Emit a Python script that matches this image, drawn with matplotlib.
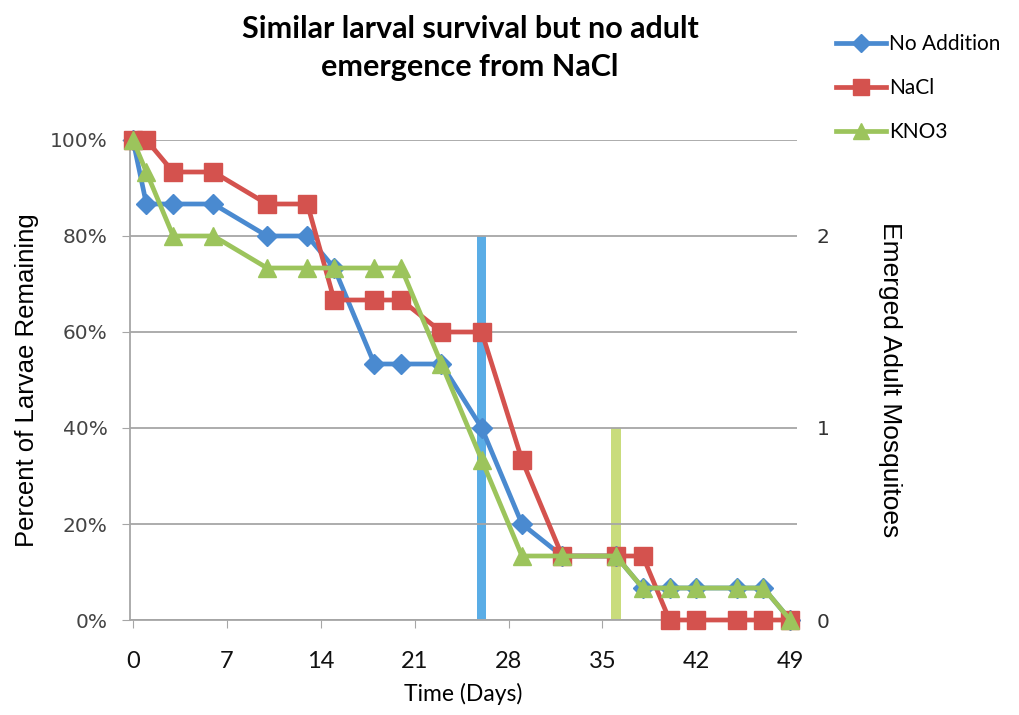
import numpy as np
import matplotlib.pyplot as plt
from matplotlib.lines import Line2D

# Data (15 larvae per treatment)
days = [0, 1, 3, 6, 10, 13, 15, 18, 20, 23, 26, 29, 32, 36, 38, 40, 42, 45, 47, 49]
no_addition = [15, 13, 13, 13, 12, 12, 11, 8, 8, 8, 6, 3, 2, 2, 1, 1, 1, 1, 1, 0]
nacl = [15, 15, 14, 14, 13, 13, 10, 10, 10, 9, 9, 5, 2, 2, 2, 0, 0, 0, 0, 0]
kno3 = [15, 14, 12, 12, 11, 11, 11, 11, 11, 8, 5, 2, 2, 2, 1, 1, 1, 1, 1, 0]
n_larvae = 15

emerge_days = [26, 36]
emerged = [2, 1]
emerge_colors = ['#5AADE6', '#C9DC7C']

x_ticks = [0, 7, 14, 21, 28, 35, 42, 49]

title = 'Similar larval survival but no adult\nemergence from NaCl'

blue = '#4A8AD0'
red = '#D4524E'
green = '#9CC45C'
grid_c = '#A6A6A6'

fig = plt.figure(figsize=(10.2, 7.15), dpi=100)
ax = fig.add_axes([130/1020, 1 - 620/715, (797 - 130)/1020, (620 - 140)/715])
ax2 = ax.twinx()

# emerged adults on the right axis, behind the survival lines
ax2.bar(emerge_days, emerged, width=0.7, color=emerge_colors, zorder=1)
ax2.set_ylim(0, 2.5)
ax2.set_yticks([0, 1, 2])
ax2.tick_params(axis='y', length=0, pad=14, labelsize=14.5, labelcolor='#333333')
ax2.set_ylabel('Emerged Adult Mosquitoes', rotation=-90, fontsize=19,
               family='Liberation Sans', labelpad=52)
for s in ax2.spines.values():
    s.set_visible(False)

ax.set_zorder(ax2.get_zorder() + 1)
ax.patch.set_visible(False)

frac = lambda v: np.array(v) / n_larvae
ax.plot(days, frac(no_addition), color=blue, lw=3.4, marker='D', ms=10.5, clip_on=False, zorder=3)
ax.plot(days, frac(nacl), color=red, lw=3.4, marker='s', ms=13, clip_on=False, zorder=4)
ax.plot(days, frac(kno3), color=green, lw=3.4, marker='^', ms=13, clip_on=False, zorder=5)

ax.set_xlim(-0.22, 49.5)
ax.set_ylim(0, 1.0)
ax.set_yticks(np.arange(0, 1.01, 0.2))
ax.set_yticklabels([f'{int(round(v*100))}%' for v in np.arange(0, 1.01, 0.2)])
ax.set_xticks(x_ticks)
ax.grid(axis='y', color=grid_c, lw=1.3)
ax.set_axisbelow(True)
for s in ['top', 'right']:
    ax.spines[s].set_visible(False)
for s in ['left', 'bottom']:
    ax.spines[s].set_color(grid_c)
    ax.spines[s].set_linewidth(1.3)
ax.tick_params(axis='y', direction='out', length=6, color=grid_c, labelsize=14.5,
               labelcolor='#444444', pad=10)
ax.tick_params(axis='x', direction='out', length=6, color=grid_c, labelsize=17,
               labelcolor='#111111', pad=16)
for lab in ax.get_xticklabels():
    lab.set_family('Lato')

ax.set_ylabel('Percent of Larvae Remaining', fontsize=18.5, family='Liberation Sans', labelpad=8)
ax.set_xlabel('Time (Days)', fontsize=16.5, family='Lato', labelpad=8)
fig.text(470/1020, 1 - 48/715, title, ha='center', va='center', fontsize=22,
         fontweight='bold', family='Lato', linespacing=1.4)

handles = [
    Line2D([], [], color=blue, lw=3.4, marker='D', ms=9),
    Line2D([], [], color=red, lw=3.4, marker='s', ms=11),
    Line2D([], [], color=green, lw=3.4, marker='^', ms=11),
]
fig.legend(handles, ['No Addition', 'NaCl', 'KNO3'], loc='upper left',
           bbox_to_anchor=(828/1020, 1 - 26/715), frameon=False,
           prop={'family': 'Lato', 'size': 15}, handlelength=2.4,
           handletextpad=0.15, labelspacing=1.15, borderaxespad=0)

fig.savefig('out.png', dpi=100)
